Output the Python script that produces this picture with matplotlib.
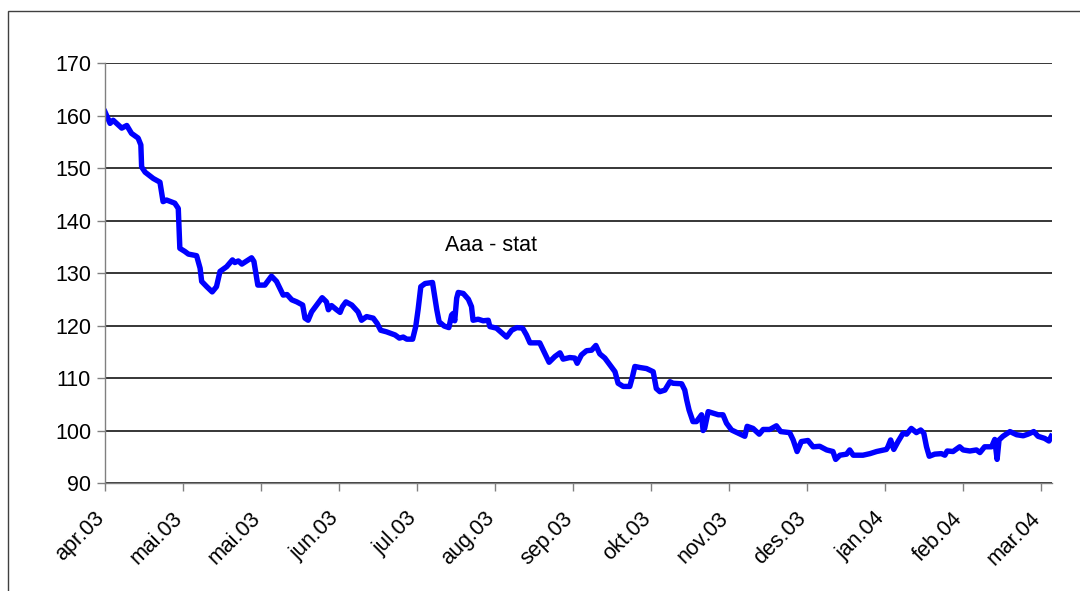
import matplotlib
matplotlib.use('Agg')
import matplotlib.pyplot as plt
from matplotlib.patches import Rectangle
from matplotlib.transforms import ScaledTranslation

plt.rcParams['font.family'] = ['Liberation Sans', 'DejaVu Sans']

# handelsdager (indeks) og kurs lest av bildet
dager = [0, 1.3, 2.1, 4.3, 5.6, 6.8, 8.5, 9.2, 9.4, 10.3, 12.4, 14.1, 14.9, 15.8, 17.9,
         18.8, 19.2, 20.5, 21.4, 23.5, 24.4, 24.8, 26.1, 27.5, 28.6, 29.5, 31.2, 32.7,
         33.3, 34.2, 35.1, 37.6, 38.2, 39.2, 41.0, 42.7, 44.0, 45.7, 46.7, 47.9, 49.2,
         50.7, 51.3, 52.1, 53.0, 54.3, 55.7, 56.8, 57.3, 58.1, 59.4, 60.3, 60.9, 61.8,
         63.3, 64.9, 65.8, 67.1, 68.8, 69.8, 70.7, 72.2, 74.4, 75.5, 76.5, 77.4, 78.9,
         79.7, 80.3, 81.0, 82.1, 84.0, 85.1, 85.7, 87.0, 88.2, 88.9, 89.3, 89.7, 90.2,
         90.6, 91.9, 93.2, 94.0, 94.4, 95.7, 97.0, 98.3, 98.7, 100.4, 103.0, 104.3,
         105.6, 107.1, 108.1, 109.0, 111.5, 112.6, 113.9, 115.4, 116.7, 117.5, 119.2,
         120.5, 121.1, 122.2, 123.5, 124.8, 125.9, 126.9, 128.2, 129.5, 130.8, 131.6,
         132.9, 134.6, 135.3, 135.9, 137.2, 138.9, 140.6, 141.4, 142.3, 143.6, 144.9,
         145.7, 147.9, 148.7, 149.2, 149.8, 150.8, 151.7, 153.0, 153.4, 153.8, 154.7,
         156.0, 157.3, 158.5, 159.4, 160.7, 162.4, 164.1, 164.7, 166.2, 167.8, 168.8,
         170.5, 172.2, 173.3, 175.6, 176.5, 177.5, 178.6, 180.3, 181.6, 183.3, 185.1,
         186.7, 187.4, 188.5, 190.2, 191.0, 191.9, 194.4, 196.2, 197.9, 200.4, 200.8,
         201.5, 202.3, 203.4, 204.7, 205.6, 206.8, 208.1, 209.2, 210.0, 210.7, 211.4,
         212.8, 214.5, 215.4, 216.0, 217.5, 219.2, 220.1, 221.8, 223.5, 224.4, 225.6,
         227.4, 228.2, 228.8, 229.3, 230.3, 232.1, 233.8, 235.5, 236.7, 238.2, 239.3,
         241.0, 242.1, 242.7]
kurs = [160.7, 158.5, 159.1, 157.6, 158.1, 156.6, 155.7, 154.4, 150.2, 149.2, 148.0,
        147.3, 143.6, 143.9, 143.3, 142.3, 134.7, 134.1, 133.6, 133.3, 130.9, 128.4,
        127.4, 126.4, 127.4, 130.3, 131.2, 132.5, 132.0, 132.3, 131.7, 132.9, 132.2,
        127.7, 127.7, 129.4, 128.4, 125.8, 125.9, 124.9, 124.5,
        123.9, 121.4, 121.0, 122.6, 123.9, 125.3, 124.5, 123.0, 123.8, 123.0, 122.5,
        123.6, 124.5, 123.9, 122.6, 121.0, 121.7, 121.4, 120.4, 119.1, 118.8, 118.2,
        117.6, 117.8, 117.4, 117.4, 119.8, 123.0, 127.4, 128.0, 128.2, 123.0, 120.7,
        119.9, 119.6, 122.0, 122.3, 120.9, 125.2, 126.3, 126.1, 125.0, 123.6, 121.0,
        121.2, 120.9, 121.0, 119.8, 119.5, 117.8, 119.1, 119.6, 119.5, 118.2, 116.7,
        116.7, 115.0, 113.0, 114.1, 114.8, 113.6, 113.9, 113.8, 112.8, 114.4, 115.2,
        115.3, 116.2, 114.6, 113.8, 112.5, 111.2, 109.0, 108.4, 108.4, 110.3, 112.2,
        112.0, 111.8, 111.2, 108.0, 107.4, 107.7, 109.3, 109.0, 108.9, 107.7, 105.8,
        103.9, 101.7, 101.7, 103.0, 100.0, 100.4, 103.6, 103.3, 103.0, 103.0, 101.4,
        100.1, 99.5, 98.9, 100.8, 100.4, 99.3, 100.2, 100.2, 100.9, 99.8, 99.6, 98.2,
        96.0, 97.9, 98.1, 96.9, 97.0, 96.3, 96.0, 94.5, 95.3, 95.5, 96.3, 95.3, 95.3,
        95.6, 96.0, 96.4, 96.9, 98.2, 96.4, 97.9, 99.5, 99.3, 100.4, 99.6, 100.1, 99.5,
        96.9, 95.1, 95.5, 95.6, 95.3, 96.1, 96.0, 96.9, 96.3, 96.1, 96.3, 95.8, 96.9,
        96.9, 98.3, 94.5, 98.2, 98.9, 99.8, 99.2, 99.0, 99.3, 99.8, 98.9, 98.5, 98.0,
        98.9]

tick_pos = [0, 20, 40, 60, 80, 100, 120, 140, 160, 180, 200, 220, 240]
tick_lab = ['apr.03', 'mai.03', 'mai.03', 'jun.03', 'jul.03', 'aug.03', 'sep.03',
            'okt.03', 'nov.03', 'des.03', 'jan.04', 'feb.04', 'mar.04']

fig = plt.figure(figsize=(10.8, 5.91), dpi=100)
ax = fig.add_axes([0.0972, 0.1827, 0.8773, 0.7107])

# ramme rundt diagrammet (kuttet i høyre og nedre kant)
fig.patches.append(Rectangle((8 / 1080, -0.2), 1.2, 1 - 11 / 591 + 0.2,
                             transform=fig.transFigure, fill=False,
                             edgecolor='#404040', linewidth=1.0))

ax.plot(dager, kurs, color='#0000ff', linewidth=3.9, solid_joinstyle='round')

ax.set_xlim(0, 243)
ax.set_ylim(90, 170)
ax.set_yticks(range(90, 171, 10))
ax.yaxis.grid(True, color='black', linewidth=1.1)
ax.set_axisbelow(True)

for s in ['top', 'right']:
    ax.spines[s].set_visible(False)
for s in ['left', 'bottom']:
    ax.spines[s].set_color('#808080')
    ax.spines[s].set_linewidth(1.0)
ax.tick_params(axis='both', direction='out', length=6, color='#808080', width=1.0,
               labelsize=15.5)
ax.tick_params(axis='y', pad=4)
ax.tick_params(axis='x', pad=12)

ax.set_xticks(tick_pos)
ax.set_xticklabels(tick_lab, rotation=45, ha='right', va='top', rotation_mode='anchor')
# flytt etikettene litt til venstre (etter tick_params, ellers nullstilles det)
skift = ScaledTranslation(-0.11, 0, fig.dpi_scale_trans)
for lab in ax.get_xticklabels():
    lab.set_transform(lab.get_transform() + skift)

ax.text(87.2, 135.3, 'Aaa - stat', fontsize=15.5, ha='left', va='center')

plt.savefig('out.png', dpi=100)
